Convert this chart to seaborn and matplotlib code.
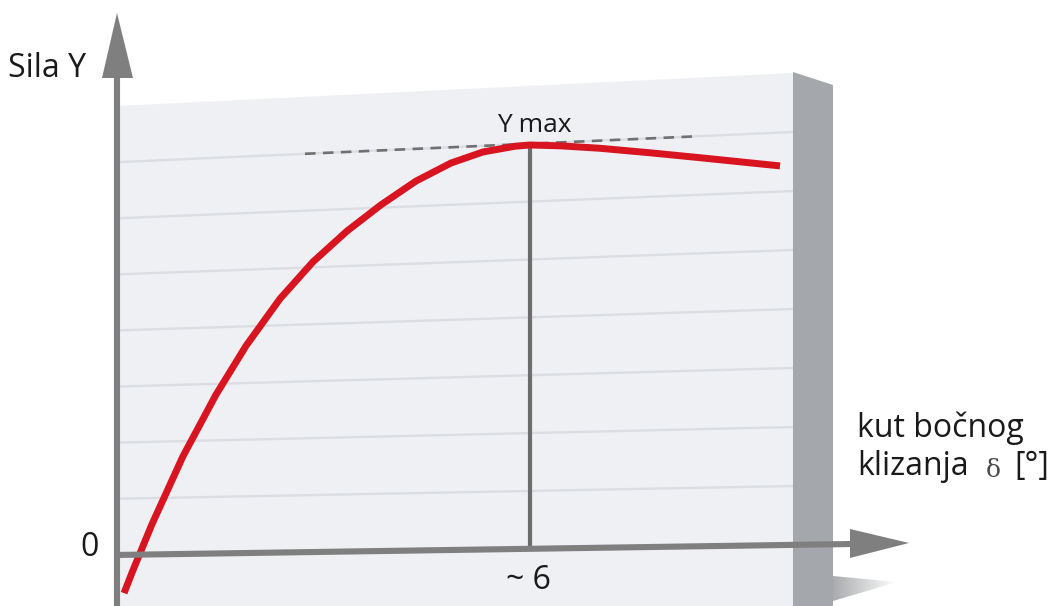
import numpy as np
import pandas as pd
import matplotlib
matplotlib.use("Agg")
import matplotlib.pyplot as plt
import seaborn as sns
from matplotlib.patches import Polygon

# ---- data ----
delta_deg = [0.102, 0.218, 0.508, 0.959, 1.438, 1.874, 2.368, 2.847, 3.341,
             3.835, 4.344, 4.852, 5.317, 5.782, 6.000, 6.436, 7.017, 7.743,
             8.470, 9.051, 9.632]
force_y = [-0.093, -0.043, 0.075, 0.241, 0.391, 0.510, 0.625, 0.715, 0.790,
           0.854, 0.912, 0.956, 0.983, 0.997, 1.000, 0.998, 0.992, 0.981,
           0.969, 0.959, 0.949]
delta_peak = 6.0
y_peak = 1.0
y_label = "Sila Y"
x_label_1 = "kut bočnog"
x_label_2 = "klizanja"
x_symbol = "δ"
x_unit = "[°]"
peak_label = "Y max"
peak_tick = "~ 6"
zero_label = "0"

df = pd.DataFrame({"delta": delta_deg, "Y": force_y})

sns.set_style("white")
plt.rcParams["font.family"] = ["Open Sans", "DejaVu Sans"]

W, H = 1051, 606
fig = plt.figure(figsize=(W / 100, H / 100), dpi=100)
ax = fig.add_axes([0, 0, 1, 1])

# pixel -> data helper for the decorative 3D panel
PX0, PY0, KX, KY = 117.0, 555.0, (530.0 - 117.0) / 6.0, 410.0


def P(px, py):
    return ((px - PX0) / KX, (PY0 - py) / KY)


x0, _ = P(0, 0)
x1, _ = P(W, 0)
_, y0 = P(0, H)
_, y1 = P(0, 0)
ax.set_xlim(x0, x1)
ax.set_ylim(y0, y1)
ax.axis("off")

# panel (front face)
panel = Polygon([P(117, 106), P(793, 73), P(793, H + 5), P(117, H + 5)],
                closed=True, facecolor="#eef0f4", edgecolor="none", zorder=0)
ax.add_patch(panel)
# right side face
side = Polygon([P(793, 72), P(833, 85), P(833, H + 5), P(793, H + 5)],
               closed=True, facecolor="#a4a7ab", edgecolor="none", zorder=0)
ax.add_patch(side)
# shadow wedge at bottom right with a fading gradient
shadow = Polygon([P(833, 576), P(897, 582), P(833, 601)], closed=True,
                 facecolor="none", edgecolor="none", zorder=0)
ax.add_patch(shadow)
grad = np.linspace(0, 1, 256).reshape(1, -1)
sx0, sy0 = P(833, 603)
sx1, sy1 = P(897, 574)
im = ax.imshow(grad, cmap=matplotlib.colors.LinearSegmentedColormap.from_list(
    "sh", ["#a9abae", "#ffffff"]), extent=[sx0, sx1, sy0, sy1],
    aspect="auto", zorder=0, interpolation="bilinear")
im.set_clip_path(shadow)
ax.set_xlim(x0, x1)
ax.set_ylim(y0, y1)

# perspective grid lines
for i in range(1, 8):
    yl = 106 + 56.1 * i
    yr = 73 + 59.0 * i
    a, b = P(119, yl), P(793, yr)
    ax.plot([a[0], b[0]], [a[1], b[1]], color="#dadde2", lw=1.7, zorder=1,
            solid_capstyle="butt")


# dashed Ymax line along first grid line
def grid1(px):
    yl, yr = 106 + 56.1, 73 + 59.0
    return yl + (yr - yl) * (px - 119) / (793 - 119)


a, b = P(305, grid1(305)), P(695, grid1(695))
ax.plot([a[0], b[0]], [a[1], b[1]], color="#707070", lw=1.9,
        linestyle=(0, (4, 2.8)), zorder=2)

# vertical line at the peak
ax_y_at_peak = P(530, 555 - 11 * (530 - 117) / 733)[1]
ax.plot([delta_peak, delta_peak], [y_peak, ax_y_at_peak], color="#6d6d6d",
        lw=3.0, zorder=2, solid_capstyle="butt")

# curve
sns.lineplot(data=df, x="delta", y="Y", ax=ax, color="#d7141f", lw=5.0,
             zorder=3, sort=False, legend=False)
ln = ax.lines[-1]
ln.set_solid_capstyle("butt")
ln.set_solid_joinstyle("round")

axis_col = "#7f7f7f"
# y axis with arrowhead
a, b = P(117, H + 5), P(117, 76)
ax.plot([a[0], b[0]], [a[1], b[1]], color=axis_col, lw=4.4, zorder=4,
        solid_capstyle="butt")
ax.add_patch(Polygon([P(102, 78), P(133, 78), P(117, 13)], closed=True,
                     facecolor=axis_col, edgecolor="none", zorder=4))
# x axis with arrowhead
a, b = P(114, 555), P(852, 544)
ax.plot([a[0], b[0]], [a[1], b[1]], color=axis_col, lw=4.4, zorder=4,
        solid_capstyle="butt")
ax.add_patch(Polygon([P(850, 529), P(850, 558), P(909, 543)], closed=True,
                     facecolor=axis_col, edgecolor="none", zorder=4))

tc = "#1a1a1a"
ax.text(*P(8, 77), y_label, fontsize=23, color=tc, ha="left", va="baseline")
ax.text(*P(90, 556), zero_label, fontsize=23, color=tc, ha="center",
        va="baseline")
ax.text(*P(528, 589), peak_tick, fontsize=23, color=tc, ha="center",
        va="baseline")
ax.text(*P(534, 132), peak_label, fontsize=19, color=tc, ha="center",
        va="baseline")
ax.text(*P(857, 437), x_label_1, fontsize=23, color=tc, ha="left",
        va="baseline")
ax.text(*P(857, 475), x_label_2, fontsize=23, color=tc, ha="left",
        va="baseline")
ax.text(*P(993, 477), x_symbol, fontsize=18, color="#4a4a4a", ha="center",
        va="baseline", family=["DejaVu Serif"])
ax.text(*P(1014, 475), x_unit, fontsize=23, color=tc, ha="left",
        va="baseline")

fig.savefig("out.png", dpi=100)
